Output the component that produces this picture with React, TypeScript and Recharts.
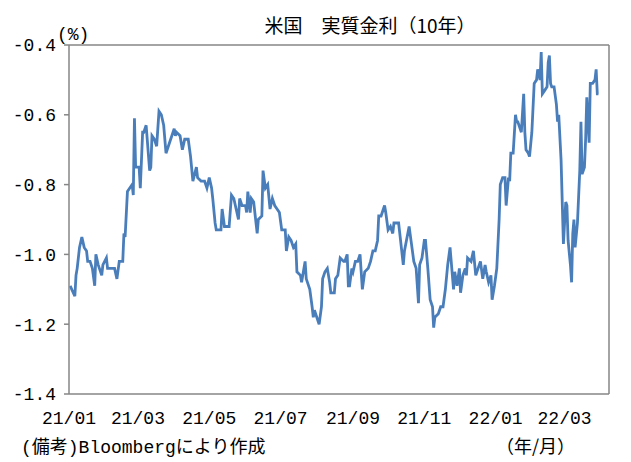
import { Line, LineChart, ReferenceLine, XAxis, YAxis } from "recharts";

// days since 2021-01-01
const dayOffsets = [
  1, 5, 6, 7, 9, 11, 13, 15, 16, 18, 20, 22, 23, 25, 26, 28, 29, 32, 33, 36, 39, 41, 43, 46, 47, 48,
  50, 52, 54, 55, 56, 57, 60, 61, 63, 64, 66, 69, 70, 71, 73, 75, 77, 79, 81, 83, 85, 88, 90, 91, 92,
  95, 97, 99, 102, 104, 106, 109, 110, 113, 116, 117, 118, 120, 122, 123, 125, 126, 130, 131, 133, 134,
  137, 139, 141, 143, 145, 146, 148, 151, 152, 153, 155, 156, 158, 161, 162, 165, 166, 168, 170, 172,
  174, 176, 178, 180, 182, 185, 186, 188, 190, 192, 194, 195, 198, 199, 202, 203, 206, 208, 209, 210,
  212, 214, 216, 217, 219, 221, 223, 224, 227, 228, 230, 232, 235, 236, 238, 239, 240, 242, 243, 245,
  247, 249, 250, 251, 253, 256, 258, 260, 262, 264, 265, 267, 270, 271, 273, 275, 277, 278, 282, 283,
  286, 287, 291, 293, 295, 297, 299, 300, 302, 304, 305, 307, 309, 311, 312, 313, 316, 318, 320, 322,
  324, 326, 327, 329, 330, 332, 334, 335, 337, 339, 340, 341, 344, 346, 348, 350, 352, 354, 356, 357,
  359, 361, 362, 364, 366, 368, 369, 371, 373, 374, 376, 377, 378, 380, 382, 383, 384, 386, 387, 389,
  390, 391, 393, 394, 396, 398, 400, 401, 403, 404, 405, 407, 409, 410, 411, 412, 413, 415, 417, 418,
  419, 421, 423, 425, 426, 427, 429, 430, 431, 432, 433, 435, 437, 438, 439, 441, 442, 443, 445, 446,
  448, 450, 451, 452, 453,
];

const realRate10y = [
  -1.09, -1.12, -1.06, -1.04, -0.98, -0.95, -0.98, -0.99, -1.02, -1.02, -1.04, -1.09, -1.0, -1.03, -1.04,
  -1.06, -1.03, -1.01, -1.04, -1.04, -1.04, -1.07, -1.02, -1.02, -0.94, -0.95,
  -0.82, -0.81, -0.8, -0.83, -0.61, -0.75, -0.75, -0.81, -0.65, -0.65, -0.63, -0.76, -0.75, -0.66, -0.67,
  -0.69, -0.59, -0.6, -0.63, -0.71, -0.69, -0.66, -0.64, -0.66, -0.65,
  -0.66, -0.7, -0.67, -0.67, -0.72, -0.79, -0.75, -0.78, -0.79, -0.79, -0.8, -0.81, -0.78, -0.81, -0.84,
  -0.91, -0.93, -0.93, -0.87, -0.92, -0.92,
  -0.92, -0.83, -0.84, -0.87, -0.9, -0.84, -0.86, -0.86, -0.88, -0.82, -0.88, -0.84, -0.85, -0.94, -0.9,
  -0.89, -0.76, -0.81, -0.8, -0.87,
  -0.84, -0.86, -0.87, -0.88, -0.93, -0.93, -0.99, -0.95, -0.96, -0.98, -0.97, -1.05, -1.06, -1.08, -1.02,
  -1.07, -1.1, -1.15, -1.18, -1.16,
  -1.18, -1.2, -1.15, -1.07, -1.05, -1.04, -1.08, -1.11, -1.11, -1.07, -1.06, -1.01, -1.02, -1.02, -1.0,
  -1.09, -1.09, -1.04, -1.05, -1.02,
  -1.02, -1.0, -1.05, -1.1, -1.05, -1.04, -1.02, -0.99, -0.99, -0.96, -0.89, -0.89, -0.86, -0.88, -0.93,
  -0.92, -0.94, -0.91, -0.91, -0.94,
  -1.03, -0.99, -0.92, -0.97, -1.02, -1.04, -1.14, -1.03, -1.01, -0.96, -0.96, -1.04, -1.13, -1.15, -1.21,
  -1.18, -1.17, -1.15, -1.15, -1.1,
  -1.03, -0.98, -1.02, -1.1, -1.05, -1.09, -1.04, -1.11, -1.06, -1.04, -1.06, -1.01, -1.02, -0.99, -1.06,
  -1.04, -1.02, -1.07, -1.03, -1.05,
  -1.08, -1.06, -1.13, -1.09, -1.04, -0.9, -0.8, -0.78, -0.78, -0.86, -0.78, -0.79, -0.71, -0.71, -0.6,
  -0.62, -0.62, -0.64, -0.65, -0.54,
  -0.65, -0.7, -0.71, -0.72, -0.65, -0.51, -0.5, -0.47, -0.5, -0.42, -0.54, -0.53, -0.52, -0.45, -0.43,
  -0.51, -0.52, -0.52, -0.57, -0.62,
  -0.6, -0.73, -0.97, -0.85, -0.86, -0.96, -1.03, -1.08, -0.94, -0.9, -0.98, -0.91, -0.76, -0.62, -0.77,
  -0.75, -0.67, -0.55, -0.68, -0.51,
  -0.51, -0.5, -0.47, -0.54, -0.54,
];

const monthTicks = ["21/01", "21/03", "21/05", "21/07", "21/09", "21/11", "22/01", "22/03"];
const yTicks = [-1.4, -1.2, -1.0, -0.8, -0.6, -0.4];
const axisEndDay = 462;

const startUtc = Date.UTC(2021, 0, 1);
const tickDays = monthTicks.map((label) => {
  const [yy, mm] = label.split("/").map(Number);
  return Math.round((Date.UTC(2000 + yy, mm - 1, 1) - startUtc) / 86400000);
});

const chartData = dayOffsets.map((day, i) => ({ day, rate: realRate10y[i] }));

const MONO = "'Liberation Mono', 'Noto Sans CJK JP', monospace";
const CJK = "'Noto Sans CJK JP', sans-serif";
const frame = "#868686";

export default function App() {
  return (
    <div style={{ position: "absolute", left: 0, top: 0, width: 631, height: 462, background: "#fff" }}>
      <LineChart width={631} height={462} data={chartData} margin={{ top: 45, right: 22, bottom: 38, left: 0 }}>
        <XAxis
          dataKey="day"
          type="number"
          domain={[0, axisEndDay]}
          ticks={tickDays}
          tickFormatter={(d) => monthTicks[tickDays.indexOf(d)] ?? ""}
          tickLine={false}
          tickMargin={11}
          height={30}
          axisLine={{ stroke: frame, strokeWidth: 1.5 }}
          tick={{ fontSize: 18, fontFamily: MONO, fill: "#000" }}
          interval={0}
        />
        <YAxis
          type="number"
          domain={[-1.4, -0.4]}
          ticks={yTicks}
          tickFormatter={(v) => v.toFixed(1)}
          width={69}
          tickSize={5}
          tickMargin={8}
          axisLine={{ stroke: frame, strokeWidth: 1.5 }}
          tickLine={{ stroke: frame, strokeWidth: 1.5 }}
          tick={{ fontSize: 18, fontFamily: MONO, fill: "#000" }}
          interval={0}
        />
        <ReferenceLine y={-0.4} stroke={frame} strokeWidth={1.5} />
        <ReferenceLine x={axisEndDay} stroke={frame} strokeWidth={1.5} />
        <Line
          type="linear"
          dataKey="rate"
          stroke="#4A7EBB"
          strokeWidth={2.8}
          dot={false}
          isAnimationActive={false}
        />
      </LineChart>
      <svg width={631} height={462} style={{ position: "absolute", left: 0, top: 0, pointerEvents: "none" }}>
        <text x={370} y={33} textAnchor="middle" fontSize={19} fontFamily={CJK} fill="#000">
          米国{"\u3000"}実質金利（10年）
        </text>
        <text x={57} y={40} fontSize={18} fontFamily={MONO} fill="#000">
          (%)
        </text>
        <text x={21} y={453} fontSize={18} fontFamily={MONO} fill="#000">
          (備考)Bloombergにより作成
        </text>
        <text x={496} y={453} fontSize={18} fontFamily={CJK} fill="#000">
          （年/月）
        </text>
      </svg>
    </div>
  );
}
